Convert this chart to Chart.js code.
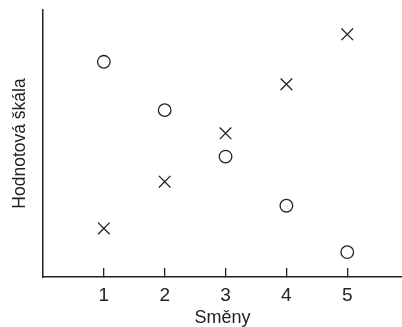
<!DOCTYPE html>
<html lang="cs">
<head>
  <meta charset="UTF-8">
  <title>Směny</title>
  <script src="https://cdn.jsdelivr.net/npm/chart.js"></script>
  <style>
    body {
      margin: 0;
      background-color: #fff;
    }
    canvas {
      display: block;
    }
  </style>
</head>
<body>
  <canvas id="shiftChart" width="402" height="327"></canvas>

  <script>
    const shifts = [1, 2, 3, 4, 5];
    const circleValues = [8.06, 6.25, 4.51, 2.67, 0.93];
    const crossValues = [1.82, 3.57, 5.38, 7.22, 9.09];

    const ink = '#222';
    const fontFamily = '"Liberation Sans", Arial, sans-serif';

    function toPoints(values) {
      return shifts.map((s, i) => ({ x: s, y: values[i] }));
    }

    new Chart(document.getElementById('shiftChart'), {
      type: 'scatter',
      data: {
        datasets: [
          {
            label: 'kruh',
            data: toPoints(circleValues),
            pointStyle: 'circle',
            pointRadius: 6.3,
            borderWidth: 1.3,
            borderColor: ink,
            backgroundColor: 'rgba(255,255,255,0)'
          },
          {
            label: 'křížek',
            data: toPoints(crossValues),
            pointStyle: 'crossRot',
            pointRadius: 8.2,
            borderWidth: 1.3,
            borderColor: ink,
            backgroundColor: ink
          }
        ]
      },
      options: {
        responsive: false,
        animation: false,
        layout: {
          autoPadding: false,
          padding: { top: 10, right: 0, left: 0, bottom: 0 }
        },
        plugins: {
          legend: { display: false },
          tooltip: { enabled: false }
        },
        scales: {
          x: {
            type: 'linear',
            min: 0,
            max: 5.9,
            afterBuildTicks: axis => {
              axis.ticks = shifts.map(v => ({ value: v }));
            },
            afterFit: axis => {
              axis.height = 50;
              axis.paddingLeft = 0;
              axis.paddingRight = 0;
            },
            border: { color: ink, width: 1.5 },
            grid: {
              drawOnChartArea: false,
              drawTicks: true,
              tickLength: -9,
              color: ink,
              lineWidth: 1.3
            },
            ticks: {
              color: ink,
              padding: 16,
              font: { family: fontFamily, size: 19 }
            },
            title: {
              display: true,
              text: 'Směny',
              color: ink,
              padding: 0,
              font: { family: fontFamily, size: 18, lineHeight: 1 }
            }
          },
          y: {
            min: 0,
            max: 10,
            afterFit: axis => {
              axis.width = 43;
              axis.paddingTop = 0;
              axis.paddingBottom = 0;
            },
            border: { color: ink, width: 1.5 },
            grid: { display: false },
            ticks: { display: false },
            title: {
              display: true,
              text: 'Hodnotová škála',
              color: ink,
              padding: { top: 10, bottom: 0 },
              font: { family: fontFamily, size: 17.5 }
            }
          }
        }
      }
    });
  </script>
</body>
</html>
